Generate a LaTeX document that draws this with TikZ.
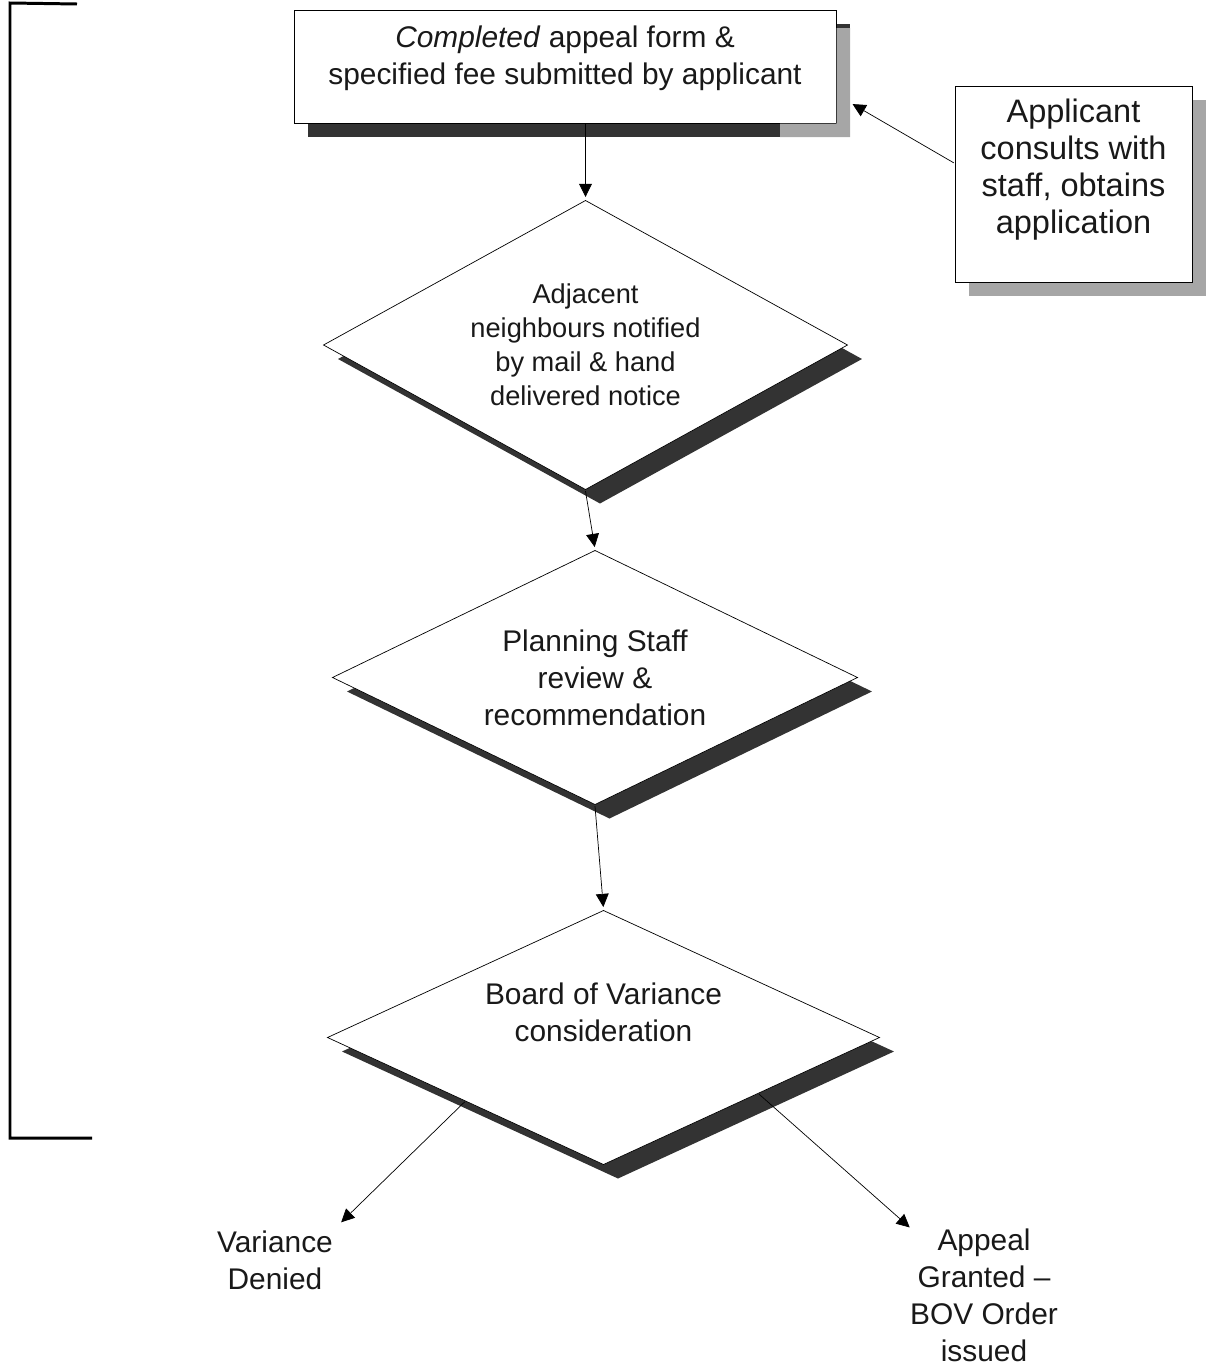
\documentclass[tikz,border=0pt]{standalone}
\usepackage{fontspec}
\setmainfont{Liberation Sans}
\usetikzlibrary{arrows.meta, shapes.geometric, shadows}

\begin{document}
\begin{tikzpicture}[x=0.02cm, y=-0.02cm]
	\tikzset {->, >={Triangle[length=9pt, width=8.5pt]}, line width=1.3pt,
		every node/.style={font=\fontsize{17}{21}\selectfont, align=center, text=black!90},
		stepbox/.style={draw, fill=white, inner sep=0pt},
		decision/.style={diamond, aspect=2, draw, fill=white, inner sep=0pt,
			general shadow={fill=black!80, shadow xshift=0.29cm, shadow yshift=-0.28cm}} }
	\useasboundingbox (0,0) rectangle (1207,1366);

	\node[stepbox, minimum width=10.84cm, minimum height=2.26cm,
		general shadow={fill=black!80, shadow xshift=0.28cm, shadow yshift=-0.28cm}] (top) at (565,66.5)
		{\textit{Completed} appeal form \&\\specified fee submitted by applicant\\[-7.7pt]\mbox{}};
	\fill[black!35] (780,123.5) rectangle (850,137) (836.5,28) rectangle (850,123.5);
	\node[stepbox, minimum width=4.74cm, minimum height=3.92cm, font=\fontsize{18.5}{21}\selectfont,
		general shadow={fill=black!35, shadow xshift=0.28cm, shadow yshift=-0.28cm}] (app) at (1073.5,184)
		{Applicant\\consults with\\staff, obtains\\application\\[-1pt]\mbox{}};
	\node[decision, minimum width=10.5cm, minimum height=5.8cm, font=\fontsize{15.5}{19.3}\selectfont] (d1) at (585.5,345)
		{Adjacent\\neighbours notified\\by mail \& hand\\delivered notice};
	\node[decision, minimum width=10.52cm, minimum height=5.1cm] (d2) at (595,677.5)
		{Planning Staff\\review \&\\recommendation};
	\node[decision, minimum width=11.06cm, minimum height=5.1cm] (d3) at (603.5,1037.5)
		{Board of Variance\\consideration\\[8pt]\mbox{}};
	\node (denied) at (275,1260) {Variance\\Denied};
	\node (granted) at (984,1295) {Appeal\\Granted \textendash\\BOV Order\\issued};

	\draw[shorten >=0.32cm] (app.170) -- (top.-6);
	\draw (top.south -| d1.north) -- (d1.north);
	\draw (d1.south) -- (d2.north);
	\draw (d2.south) -- (d3.north);
	\draw (d3.south west) -- (denied.north east);
	\draw (d3.-20) -- ([shift={(8,7)}]granted.north west);

	% bracket on the left
	\draw[-, line width=1.7pt] (77,4) -- (10,3) -- (10,1138) -- (92,1138);
\end{tikzpicture}
\end{document}
